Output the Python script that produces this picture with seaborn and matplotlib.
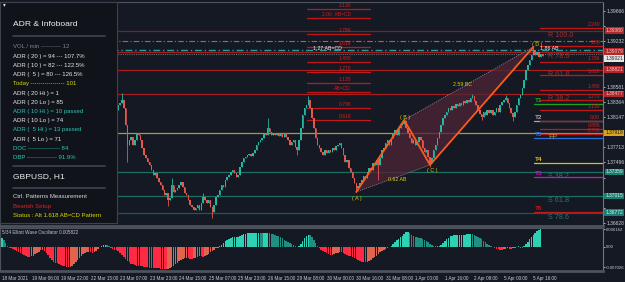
import numpy as np
import pandas as pd
import seaborn as sns
import matplotlib.pyplot as plt
import matplotlib.transforms as mtransforms
from matplotlib.lines import Line2D

# ---------------- data ----------------
# GBPUSD H1 closes, bar 63 .. 293 (earlier bars are hidden behind the infoboard)
first_bar = 63
open_first = 1.38248
closes = [
    1.38319, 1.38348, 1.38391, 1.38276, 1.38033, 1.37746, 1.37818, 1.37861, 1.37746, 1.37818,
    1.37918, 1.37889, 1.37818, 1.37703, 1.37603, 1.37560, 1.37503, 1.37460, 1.37388, 1.37316,
    1.37345, 1.37273, 1.37216, 1.37173, 1.37101, 1.37030, 1.37058, 1.36958, 1.36987, 1.37173,
    1.37073, 1.37101, 1.37130, 1.37173, 1.37216, 1.37144, 1.37058, 1.37030, 1.36958, 1.36887,
    1.36858, 1.36815, 1.36844, 1.36887, 1.36815, 1.36915, 1.37001, 1.36958, 1.36915, 1.36958,
    1.36858, 1.36786, 1.36887, 1.37001, 1.37030, 1.37101, 1.37173, 1.37144, 1.37245, 1.37288,
    1.37316, 1.37359, 1.37388, 1.37345, 1.37288, 1.37316, 1.37431, 1.37503, 1.37560, 1.37574,
    1.37603, 1.37617, 1.37589, 1.37632, 1.37675, 1.37746, 1.37789, 1.37818, 1.37846, 1.37918,
    1.37889, 1.37990, 1.37932, 1.37889, 1.37918, 1.37889, 1.37918, 1.37875, 1.37904, 1.37861,
    1.37918, 1.37861, 1.37818, 1.37746, 1.37789, 1.37818, 1.37717, 1.37675, 1.37818, 1.37990,
    1.38176, 1.38276, 1.38319, 1.38391, 1.38276, 1.38133, 1.37990, 1.37846, 1.37746, 1.37703,
    1.37646, 1.37603, 1.37675, 1.37632, 1.37675, 1.37646, 1.37703, 1.37675, 1.37732, 1.37746,
    1.37775, 1.37703, 1.37603, 1.37503, 1.37531, 1.37417, 1.37359, 1.37273, 1.37202, 1.37130,
    1.37159, 1.37202, 1.37245, 1.37302, 1.37273, 1.37359, 1.37417, 1.37388, 1.37488, 1.37460,
    1.37531, 1.37460, 1.37560, 1.37675, 1.37703, 1.37775, 1.37818, 1.37746, 1.37846, 1.37918,
    1.37961, 1.37889, 1.37990, 1.38033, 1.38047, 1.38090, 1.37990, 1.37918, 1.37846, 1.37775,
    1.37818, 1.37746, 1.37789, 1.37861, 1.37818, 1.37703, 1.37646, 1.37675, 1.37574, 1.37488,
    1.37560, 1.37675, 1.37746, 1.37846, 1.37932, 1.38033, 1.38133, 1.38176, 1.38219, 1.38276,
    1.38248, 1.38305, 1.38276, 1.38334, 1.38305, 1.38348, 1.38319, 1.38377, 1.38348, 1.38391,
    1.38362, 1.38420, 1.38448, 1.38377, 1.38319, 1.38248, 1.38190, 1.38147, 1.38219, 1.38176,
    1.38248, 1.38205, 1.38248, 1.38176, 1.38219, 1.38276, 1.38219, 1.38319, 1.38362, 1.38391,
    1.38420, 1.38348, 1.38276, 1.38205, 1.38147, 1.38219, 1.38319, 1.38420, 1.38463, 1.38563,
    1.38678, 1.38821, 1.38893, 1.38964, 1.39036, 1.39108, 1.39036, 1.39079, 1.39007, 1.39050,
    1.39021,
]
wick_high = {65: 1.38491, 92: 1.37273, 109: 1.37058, 144: 1.38133, 166: 1.38448,
             218: 1.38119, 255: 1.38477, 273: 1.38463, 288: 1.39151}
wick_low = {68: 1.37503, 90: 1.36873, 114: 1.36700, 160: 1.37603, 192: 1.37073,
            204: 1.37245, 232: 1.37431, 260: 1.38104, 277: 1.38090}

# 5/34 Elliott Wave Oscillator, bar 0 .. 292, in units of 1e-3
ewo = [
    3.2, 2.5, 1.4, 0.3, -0.2, -0.5, -0.8, -1.1, -1.4, -1.7, -2.0, -2.4, -2.8, -3.1, -3.4, -3.5,
    -3.3, -3.0, -2.6, -2.1, -1.6, -1.2, -1.1, -1.4, -2.0, -2.9, -3.8, -4.6, -5.2, -5.5, -5.7, -5.9,
    -6.2, -6.5, -6.8, -7.0, -7.1, -6.9, -6.6, -6.0, -5.3, -4.6, -3.8, -3.1, -2.6, -2.2, -1.9, -1.8,
    -1.9, -2.0, -1.8, -1.3, -0.7, -0.1, 0.4, 0.7, 0.8, 0.6, 0.2, -0.3, -0.7, -1.0, -1.2, -1.5,
    -2.0, -2.8, -3.6, -4.3, -4.9, -5.4, -5.8, -6.1, -6.3, -6.5, -6.6, -6.7, -6.8, -6.9, -7.0, -7.1,
    -7.2, -7.3, -7.3, -7.4, -7.5, -7.5, -7.6, -7.7, -7.7, -7.8, -7.7, -7.5, -7.1, -6.6, -6.0, -5.5,
    -5.0, -4.5, -4.1, -3.9, -3.8, -3.9, -4.1, -4.2, -4.0, -3.7, -3.4, -3.2, -3.3, -3.4, -3.2, -2.8,
    -2.3, -1.8, -1.3, -0.9, -0.5, -0.2, 0.3, 0.8, 1.4, 2.0, 2.5, 2.9, 3.2, 3.4, 3.5, 3.5,
    3.6, 3.8, 4.1, 4.4, 4.7, 4.9, 4.9, 4.9, 4.9, 5.0, 5.0, 5.0, 4.9, 4.8, 4.9, 5.0,
    5.0, 4.9, 4.7, 4.5, 4.3, 4.0, 3.7, 3.4, 3.0, 2.6, 2.2, 1.8, 1.4, 1.0, 0.6, 0.3,
    0.1, 0.4, 1.2, 2.2, 3.2, 4.0, 4.3, 4.2, 3.6, 2.6, 1.5, 0.5, -0.4, -0.9, -1.3, -1.7,
    -2.1, -2.5, -2.8, -2.7, -2.5, -2.2, -2.0, -1.9, -1.9, -2.0, -2.3, -2.7, -3.0, -3.3, -3.6, -3.9,
    -4.3, -4.7, -5.0, -5.2, -5.3, -5.3, -5.2, -4.9, -4.5, -4.0, -3.5, -3.0, -2.5, -1.9, -1.4, -1.0,
    -0.6, -0.3, -0.1, 0.4, 1.0, 1.7, 2.3, 2.9, 3.4, 3.9, 4.5, 5.1, 5.3, 4.9, 4.2, 3.8,
    3.6, 3.4, 3.3, 3.1, 2.8, 2.5, 2.1, 1.6, 1.1, 0.7, 0.4, 0.3, 0.3, 0.4, 0.7, 1.3,
    2.0, 2.7, 3.3, 3.7, 4.0, 4.1, 4.1, 4.2, 4.2, 4.2, 4.2, 4.3, 4.4, 4.4, 4.5, 4.4,
    4.2, 3.9, 3.5, 3.1, 2.7, 2.2, 1.7, 1.2, 0.7, 0.3, -0.1, -0.4, -0.6, -0.8, -0.9, -0.9,
    -0.8, -0.6, -0.5, -0.6, -0.7, -0.5, -0.2, 0.1, 0.2, -0.2, -0.3, 0.2, 1.0, 1.9, 2.8, 3.6,
    4.3, 5.0, 5.6, 6.0, 6.2,
]

time_labels = ["18 Mar 2021", "19 Mar 06:00", "19 Mar 22:00", "22 Mar 15:00", "23 Mar 07:00",
               "23 Mar 23:00", "24 Mar 15:00", "25 Mar 07:00", "25 Mar 23:00", "26 Mar 15:00",
               "29 Mar 08:00", "30 Mar 00:00", "30 Mar 16:00", "31 Mar 08:00", "1 Apr 00:00",
               "1 Apr 16:00", "2 Apr 08:00", "5 Apr 00:00", "5 Apr 16:00"]
bars_per_label = 16
price_ticks = [1.39666, 1.39449, 1.39232, 1.39015, 1.38798, 1.38581, 1.38364, 1.38147,
               1.37930, 1.37713, 1.37496, 1.37279, 1.37062, 1.36845, 1.36628]
osc_ticks = [0.006162, 0.0, -0.007026]
osc_tick_labels = ["0.006162", "0.00", "-0.007026"]

# ABCD pattern
pat_bar = [192, 218, 232, 288]
pat_price = [1.37073, 1.38104, 1.37460, 1.39151]

# pivot / fib levels across the whole chart
level_names = ["R 100.0", "R 78.6", "R 61.8", "R 38.2", "FP", "S 38.2", "S 61.8", "S 78.6"]
level_price = [1.39380, 1.39079, 1.38821, 1.38477, 1.37918, 1.37359, 1.37015, 1.36772]
proj_orange = 1.39236
proj_teal = 1.39108
bid_price = 1.39050

# targets
target_names = ["T1", "T2", "T3", "T4", "T5", "T6"]
target_price = [1.38334, 1.38090, 1.37846, 1.37488, 1.37288, 1.36786]

# fib extension ladders
ext_right_names = ["2.240", "1.80", "1.786", "1.618", "1.450", "1.270", "1.130", "0.00", "0.886", "0.786"]
ext_right_price = [1.39423, 1.39165, 1.38936, 1.38749, 1.38534, 1.38391, 1.38248, 1.38090, 1.37975, 1.37904]
ext_left_names = ["2.130", "2.00  AB=CD", "1.786", "1.618", "1.450", "1.270", "1.130", "AB=CD", "0.786", "0.618"]
ext_left_price = [1.39695, 1.39566, 1.39337, 1.39150, 1.38936, 1.38792, 1.38635, 1.38506, 1.38276, 1.38104]

board_lines = [
    ("VOL / min ---------- 12", "#7d828c"),
    ("ADR ( 20 ) = 94 --- 107.7%", "#e8e8e8"),
    ("ADR ( 10 ) = 82 --- 122.5%", "#e8e8e8"),
    ("ADR (  5 ) = 80 --- 126.5%", "#e8e8e8"),
    ("Today ----------------- 101", "#d8d800"),
    ("ADR ( 20 Hi ) = 1", "#e8e8e8"),
    ("ADR ( 20 Lo ) = 85", "#e8e8e8"),
    ("ADR ( 10 Hi ) = 10 passed", "#2cc7b4"),
    ("ADR ( 10 Lo ) = 74", "#e8e8e8"),
    ("ADR (  5 Hi ) = 13 passed", "#2cc7b4"),
    ("ADR (  5 Lo ) = 71", "#e8e8e8"),
    ("DOC ---------------- 84", "#2cc7b4"),
    ("DBP --------------- 91.9%", "#2cc7b4"),
]
board_footer = [
    ("Ctrl. Patterns Measurement", "#d8d8d8"),
    ("Bearish Setup", "#e0201e"),
    ("Status : Alt 1.618 AB=CD Pattern", "#d8d800"),
]

# ---------------- styling ----------------
W, H = 625, 282
BG = "#151924"
BULL, BEAR = "#26b5a0", "#e4574c"
GRID = "#4d525c"
TXT = "#c8ccd4"

sns.set_theme(style="dark", rc={"axes.facecolor": BG, "figure.facecolor": BG})
plt.rcParams["font.family"] = ["Liberation Sans", "DejaVu Sans"]

fig = plt.figure(figsize=(W / 100, H / 100), dpi=100)
fig.patch.set_facecolor(BG)

PX_PER_BAR = 1.845
XLIM = (-2 / PX_PER_BAR, 601 / PX_PER_BAR)


def fx(px):
    return px / W


def fy(py):
    return 1 - py / H


def bx(px):
    return (px - 2) / PX_PER_BAR


ax = fig.add_axes([0, fy(226), fx(603), (226 - 2) / H])
ax_osc = fig.add_axes([0, fy(271), fx(603), (271 - 228) / H])

for a in (ax, ax_osc):
    a.set_facecolor(BG)
    a.grid(False)
    for s in a.spines.values():
        s.set_color(GRID)
        s.set_linewidth(0.8)
    a.spines["bottom"].set_linewidth(2.0)
    a.spines["right"].set_color("#70757f")

# ---- main price panel ----
P_LO, P_HI = 1.36585, 1.39795
ax.set_xlim(*XLIM)
ax.set_ylim(P_LO, P_HI)
trans_tag = mtransforms.blended_transform_factory(fig.transFigure, ax.transData)

# full width levels
lvl_colors = ["#6e2626", "#a81e1e", "#a81e1e", "#a81e1e", "#a99b3a", "#1d6f66", "#1d6f66", "#1a5a55"]
lbl_colors = ["#9a3030", "#9a3030", "#9a3030", "#9a3030", "#d08a2c", "#1f7a70", "#1f7a70", "#1f7a70"]
for name, p, lc, tc in zip(level_names, level_price, lvl_colors, lbl_colors):
    ax.axhline(p, color=lc, lw=0.9, zorder=1)
    ax.text(bx(548), p - 0.00012, name, color=tc, fontsize=5.2, va="top", ha="left", zorder=4)
ax.axhline(proj_orange, color="#c0602a", lw=0.8, ls=(0, (5, 2, 1, 2)), zorder=1)
ax.axhline(proj_teal, color="#22a0a0", lw=1.0, ls=(0, (5, 2, 1, 2)), zorder=1)
ax.axhline(bid_price, color="#5f7075", lw=0.8, ls=(0, (1, 1)), zorder=1)

# targets
t_colors = ["#1fa31f", "#a8a8a8", "#2a6fd6", "#d8c21a", "#c21ac2", "#c01818"]
for name, p, c in zip(target_names, target_price, t_colors):
    ax.plot([bx(534), XLIM[1]], [p, p], color=c, lw=0.9, zorder=2)
    ax.text(bx(535), p + 0.00012, name, color=c, fontsize=4.6, va="bottom", ha="left",
            fontweight="bold", zorder=4)

# extension ladders
for name, p in zip(ext_right_names, ext_right_price):
    ax.plot([bx(540), XLIM[1]], [p, p], color="#c01818", lw=0.9, zorder=2)
    ax.text(bx(600), p + 0.00008, name, color="#d02020", fontsize=3.6, va="bottom", ha="right", zorder=4)
for name, p in zip(ext_left_names, ext_left_price):
    ax.plot([bx(307), bx(370)], [p, p], color="#c01818", lw=0.9, zorder=2)
    ax.text(bx(351), p + 0.00008, name, color="#d02020", fontsize=3.6, va="bottom", ha="right", zorder=4)
ax.text(bx(313), 1.39122, "1.27 AB=CD", color="#f0f0f0", fontsize=3.8, va="center", ha="left", zorder=4)

# ABCD pattern shading + legs
ax.fill(pat_bar[:3], pat_price[:3], color="#4f2436", alpha=0.75, lw=0, zorder=1.5)
ax.fill(pat_bar[1:], pat_price[1:], color="#4f2436", alpha=0.75, lw=0, zorder=1.5)
ax.plot([pat_bar[0], pat_bar[2]], [pat_price[0], pat_price[2]], color="#8c7f8c", lw=0.7, ls=(0, (1, 1.2)), zorder=2)
ax.plot([pat_bar[1], pat_bar[3]], [pat_price[1], pat_price[3]], color="#8c7f8c", lw=0.7, ls=(0, (1, 1.2)), zorder=2)

# candles
c = np.array(closes)
o = np.concatenate([[open_first], c[:-1]])
bars = np.arange(first_bar, first_bar + len(c))
body_lo, body_hi = np.minimum(o, c), np.maximum(o, c)
hi, lo = body_hi.copy(), body_lo.copy()
for b, v in wick_high.items():
    hi[b - first_bar] = v
for b, v in wick_low.items():
    lo[b - first_bar] = v
cols = np.where(c >= o, BULL, BEAR)
ax.vlines(bars, lo, hi, colors=cols, lw=0.6, zorder=3)
ax.bar(bars, np.maximum(body_hi - body_lo, 0.00006), bottom=body_lo, width=0.8,
       color=cols, lw=0, zorder=3)

sns.lineplot(x=pat_bar, y=pat_price, sort=False, color="#ff5a1a", lw=1.3, ax=ax, zorder=5)
ax.set_xlabel("")
ax.set_ylabel("")

yel = "#e2d200"
for s, px, p in [("( A )", 357, 1.36973), ("( B )", 405, 1.38147), ("( C )", 432, 1.37374), ("( D )", 537, 1.39179)]:
    ax.text(bx(px), p, s, color=yel, fontsize=3.8, ha="center", va="center", zorder=6)
ax.text(bx(463), 1.38606, "2.59 BC", color=yel, fontsize=3.8, ha="center", va="center", zorder=6)
ax.text(bx(388), 1.37245, "0.62 AB", color=yel, fontsize=3.8, ha="left", va="center", zorder=6)
ax.text(bx(540), 1.39122, "1.86 AB", color="#f0f0f0", fontsize=3.8, ha="left", va="center", zorder=6)

# price-axis tags (these cover the tick labels behind them, as on the terminal)
tag_prices = list(level_price) + [closes[-1] - 0.0003]
px_per_price = 224 / (P_HI - P_LO)
tick_text = [("" if min(abs(t - q) for q in tag_prices) * px_per_price < 6 else f"{t:.5f}")
             for t in price_ticks]
ax.yaxis.tick_right()
ax.set_yticks(price_ticks, tick_text)
ax.tick_params(axis="y", labelsize=3.6, colors=TXT, length=1.5, width=0.6, pad=1, direction="out")
ax.set_xticks([])


def tag(p, text, fc, tc):
    ax.text(0.997, p, text, transform=trans_tag, fontsize=3.5, color=tc, ha="right", va="center",
            clip_on=False, zorder=20, bbox=dict(boxstyle="square,pad=0.2", fc=fc, ec="none"))


for name, p in zip(level_names, level_price):
    if name.startswith("R"):
        tag(p, f"{p:.5f}", "#b3262b", "#f3c8c8")
    elif name == "FP":
        tag(p, f"{p:.5f}", "#d9a521", "#1a1a1a")
    else:
        tag(p, f"{p:.5f}", "#1a7f73", "#d6f2ee")
tag(tag_prices[-1], f"{closes[-1]:.5f}", "#e6e6e6", "#222222")

# ---- oscillator ----
ev = np.array(ewo) * 1e-3
d = np.diff(ev, prepend=ev[0])
kind = np.where(ev >= 0, np.where(d >= 0, "pos_up", "pos_dn"), np.where(d <= 0, "neg_dn", "neg_up"))
osc_df = pd.DataFrame({"bar": np.arange(len(ev)), "ewo": ev, "kind": kind})
osc_pal = {"pos_up": "#2ed1b4", "pos_dn": "#1e8f80", "neg_dn": "#ff2a44", "neg_up": "#e0644e"}
sns.barplot(data=osc_df, x="bar", y="ewo", hue="kind", palette=osc_pal, native_scale=True,
            width=0.8, dodge=False, saturation=1, linewidth=0, legend=False, ax=ax_osc)
ax_osc.set_xlim(*XLIM)
ax_osc.set_ylim(-0.0084, 0.00665)
ax_osc.set_xlabel("")
ax_osc.set_ylabel("")
ax_osc.yaxis.tick_right()
ax_osc.set_yticks(osc_ticks, osc_tick_labels)
ax_osc.set_xticks(np.arange(len(time_labels)) * bars_per_label, time_labels, ha="left")
ax_osc.tick_params(axis="x", labelsize=3.3, colors=TXT, length=2, width=0.6, pad=1.5, direction="out")
ax_osc.tick_params(axis="y", labelsize=3.1, colors=TXT, length=1.5, width=0.6, pad=0.8, direction="out")
ax_osc.text(0.004, 0.95, "5/34 Elliott Wave Oscillator 0.005822", transform=ax_osc.transAxes,
            fontsize=3.3, color="#c8c8c8", va="top", ha="left")

# ---- infoboard overlay ----
board = fig.add_axes([0, fy(223), fx(117), (223 - 2) / H], zorder=5)
board.set_facecolor("#10131a")
board.set_xticks([])
board.set_yticks([])
for s in board.spines.values():
    s.set_color("#3c414c")
    s.set_linewidth(0.8)

fig.text(fx(3), fy(5), "\u25be", color="#e0e0e0", fontsize=4, va="center", zorder=12)
fig.text(fx(13), fy(25), "ADR & Infoboard", color="#f0f0f0", fontsize=6.1, va="center", zorder=12)
for y in (36, 166, 188):
    fig.add_artist(Line2D([fx(13), fx(105)], [fy(y), fy(y)], color="#3f4450", lw=1.2, zorder=11))
for k, (s, col) in enumerate(board_lines):
    fig.text(fx(13), fy(47 + 9.2 * k), s, color=col, fontsize=4.3, va="center", zorder=12)
fig.text(fx(13), fy(177), "GBPUSD, H1", color="#f0f0f0", fontsize=6.1, va="center", zorder=12)
for k, (s, col) in enumerate(board_footer):
    fig.text(fx(13), fy(197 + 9.2 * k), s, color=col, fontsize=4.3, va="center", zorder=12)

fig.savefig("out.png", dpi=100, facecolor=BG)
